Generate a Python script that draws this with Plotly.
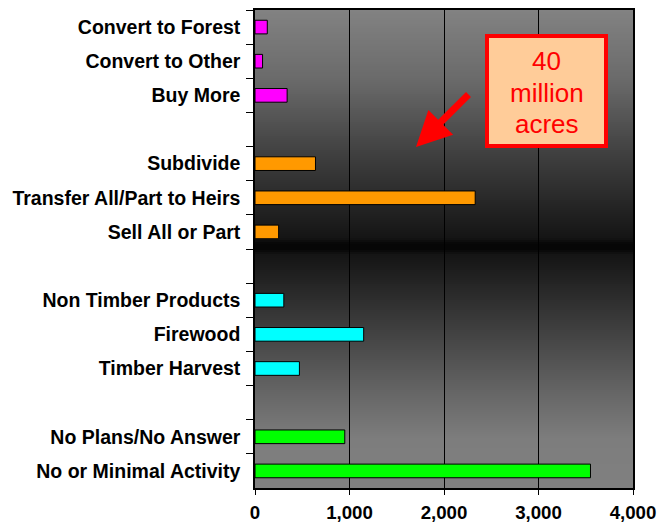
import plotly.graph_objects as go

# ---- data (top to bottom) ----
categories = ["Convert to Forest", "Convert to Other", "Buy More", " ",
              "Subdivide", "Transfer All/Part to Heirs", "Sell All or Part", "  ",
              "Non Timber Products", "Firewood", "Timber Harvest", "   ",
              "No Plans/No Answer", "No or Minimal Activity"]

land_use_cats = ["Convert to Forest", "Convert to Other", "Buy More"]
land_use_vals = [130, 80, 340]

ownership_cats = ["Subdivide", "Transfer All/Part to Heirs", "Sell All or Part"]
ownership_vals = [640, 2330, 250]

harvest_cats = ["Non Timber Products", "Firewood", "Timber Harvest"]
harvest_vals = [305, 1150, 470]

activity_cats = ["No Plans/No Answer", "No or Minimal Activity"]
activity_vals = [950, 3550]

x_tickvals = [0, 1000, 2000, 3000, 4000]

FONT = "Arial, Liberation Sans, sans-serif"

fig = go.Figure()
for cats, vals, col in [(land_use_cats, land_use_vals, "#FF00FF"),
                        (ownership_cats, ownership_vals, "#FF9900"),
                        (harvest_cats, harvest_vals, "#00FFFF"),
                        (activity_cats, activity_vals, "#00FF00")]:
    fig.add_trace(go.Bar(x=vals, y=cats, orientation="h", width=0.4,
                         marker=dict(color=col, line=dict(color="black", width=1)),
                         showlegend=False))

# ---- plot-area geometry in pixels (for decoration only) ----
TOP, BOT = 10, 488
H = BOT - TOP
def py(p):
    return (BOT - p) / H

# gradient background stops (pixel y, gray level)
stops = [(10, 130), (80, 106), (150, 66), (200, 40), (238, 20), (244, 6), (250, 6),
         (254, 20), (300, 46), (350, 76), (400, 106), (440, 125), (488, 128)]
def gray(p):
    for (a, ga), (b, gb) in zip(stops[:-1], stops[1:]):
        if a <= p <= b:
            return ga + (gb - ga) * (p - a) / (b - a)
    return 128

shapes = []
step = 2
p = TOP
while p < BOT:
    g = int(round(gray(p + step / 2)))
    shapes.append(dict(type="rect", xref="paper", yref="paper", x0=0, x1=1,
                       y0=py(min(p + step + 1.5, BOT)), y1=py(p), layer="below",
                       line=dict(width=0), fillcolor=f"rgb({g},{g},{g})"))
    p += step

# annotation box
L, R = 255, 633
W = R - L
def px(x):
    return (x - L) / W

shapes.append(dict(type="rect", xref="paper", yref="paper",
                   x0=px(487), x1=px(606), y0=py(146), y1=py(36),
                   fillcolor="#FFCC99", line=dict(color="#FF0000", width=4), layer="above"))

annotations = []
for txt, yy in [("40", 61), ("million", 93), ("acres", 124)]:
    annotations.append(dict(text=txt, xref="paper", yref="paper", x=px(546.5), y=py(yy),
                            xanchor="center", yanchor="middle", showarrow=False,
                            font=dict(family=FONT, size=26, color="#FF0000")))

annotations.append(dict(text="", xref="paper", yref="paper", x=px(416), y=py(147),
                        ax=54, ay=-54, showarrow=True, arrowhead=2, arrowsize=1,
                        arrowwidth=7, arrowcolor="#FF0000"))

fig.update_layout(
    width=658, height=525,
    margin=dict(l=255, r=25, t=10, b=37, autoexpand=False),
    paper_bgcolor="white",
    plot_bgcolor="#808080",
    barmode="overlay",
    shapes=shapes,
    annotations=annotations,
    xaxis=dict(range=[0, 4000], tickvals=x_tickvals, tickformat=",",
               automargin=False,
               showgrid=True, gridcolor="black", gridwidth=1, zeroline=False,
               showline=True, linecolor="black", linewidth=1.5, mirror=True,
               ticks="outside", ticklen=5, tickcolor="black",
               ticklabelstandoff=2,
               tickfont=dict(family=FONT, size=18.7, color="black", weight="bold")),
    yaxis=dict(type="category", categoryorder="array", categoryarray=categories,
               range=[len(categories) - 0.5, -0.5], automargin=False,
               tickson="boundaries", ticks="outside", ticklen=7, tickcolor="black",
               showgrid=False, zeroline=False,
               showline=True, linecolor="black", linewidth=1.5, mirror=True,
               ticklabelstandoff=9,
               tickfont=dict(family=FONT, size=19.5, color="black", weight="bold")),
)

fig.write_html("out.html")
